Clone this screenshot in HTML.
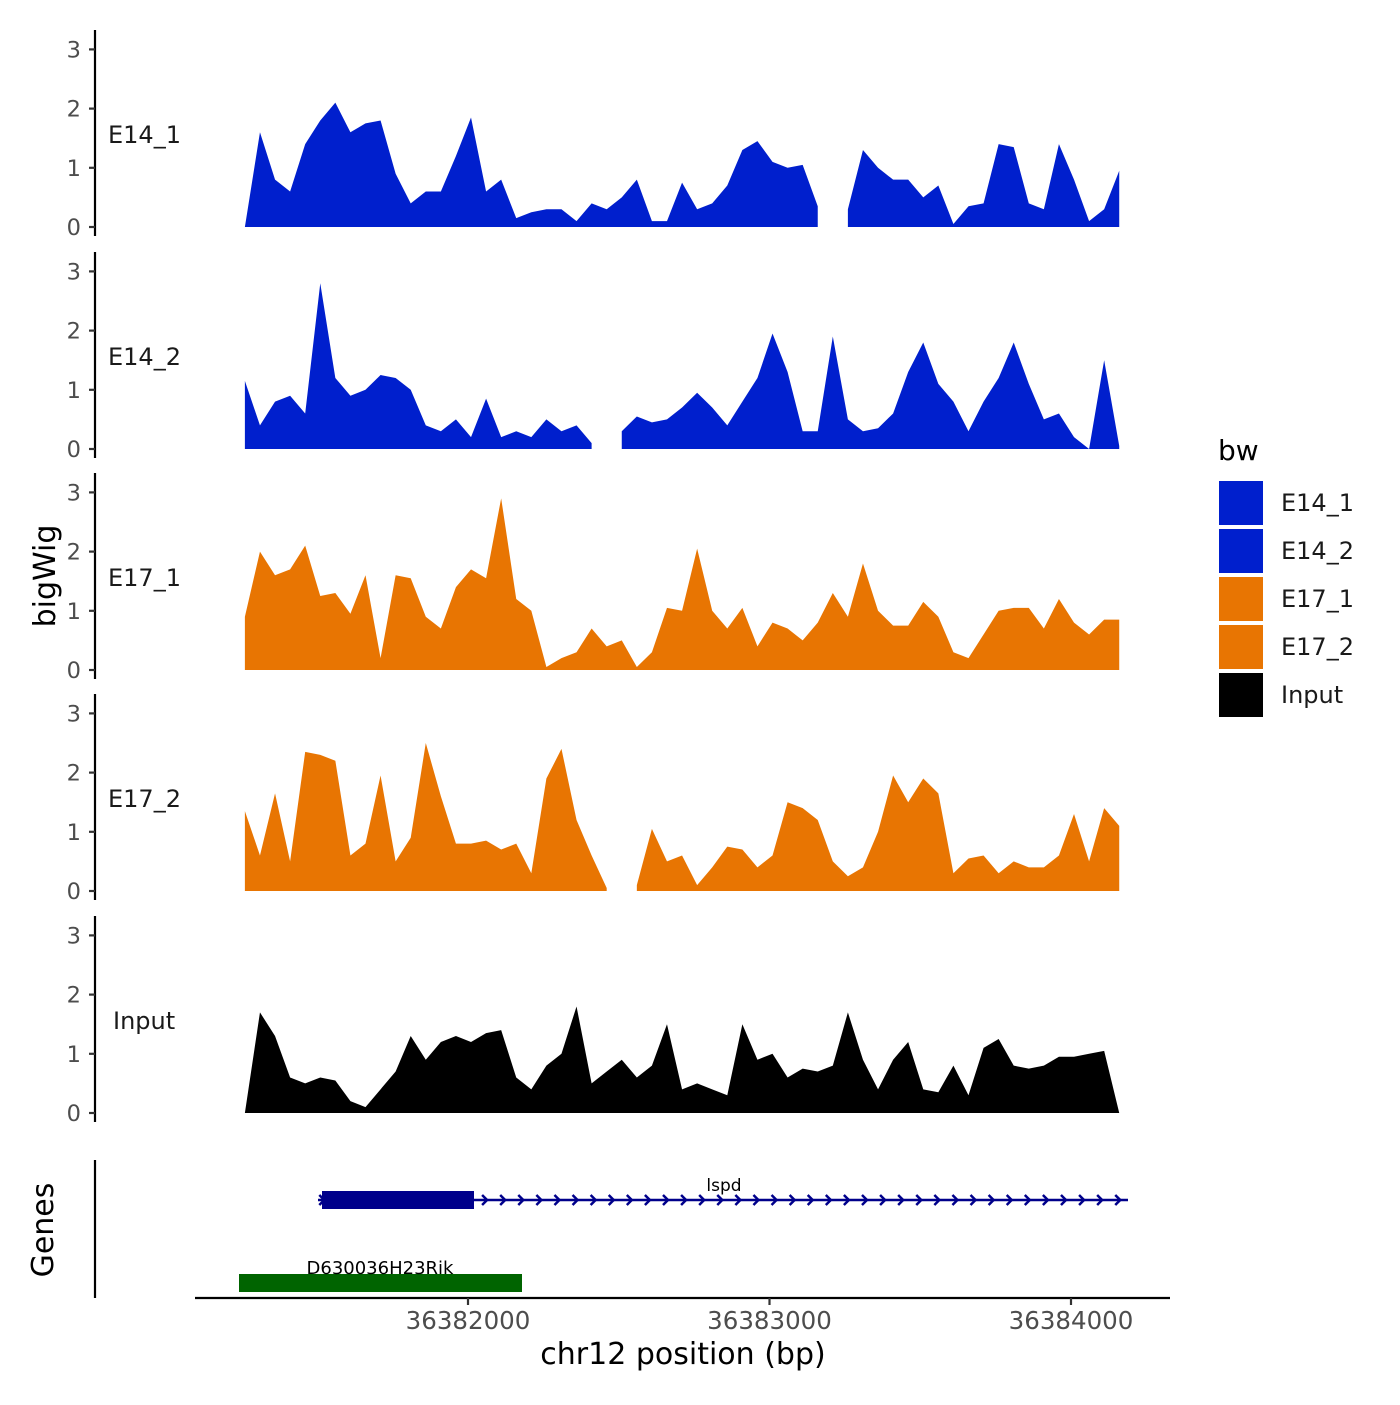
<!DOCTYPE html>
<html><head><meta charset="utf-8"><style>
body{margin:0;background:#fff}
svg text{font-family:"DejaVu Sans","Liberation Sans",sans-serif}
</style></head><body>
<svg id="chart" width="1400" height="1400" xmlns="http://www.w3.org/2000/svg">
<rect width="1400" height="1400" fill="#fff"/>
<g id="tracks"></g>
<g id="genes">
  <line x1="95" y1="1160" x2="95" y2="1298" stroke="#000" stroke-width="2.2"/>
  <line x1="318" y1="1200" x2="1128" y2="1200" stroke="#00008b" stroke-width="2.5"/>
  <g id="chevrons" stroke="#00008b" stroke-width="2.5" fill="none"></g>
  <rect x="322" y="1191" width="152" height="18" fill="#00008b"/>
  <text x="724" y="1191" font-size="17" text-anchor="middle">lspd</text>
  <rect x="239" y="1274" width="283" height="18" fill="#006400"/>
  <text x="380" y="1274" font-size="18" text-anchor="middle">D630036H23Rik</text>
</g>
<g id="xaxis">
  <line x1="195" y1="1298" x2="1170" y2="1298" stroke="#000" stroke-width="2.2"/>
</g>
<text x="55" y="576" font-size="30" text-anchor="middle" transform="rotate(-90 55 576)">bigWig</text>
<text x="53" y="1230" font-size="30" text-anchor="middle" transform="rotate(-90 53 1230)">Genes</text>
<text x="683" y="1364" font-size="30" text-anchor="middle">chr12 position (bp)</text>
<g id="legend">
  <text x="1218" y="460" font-size="28">bw</text>
</g>
</svg>
<script>
const startBp = 36381260, stepBp = 50;
const trackNames = ["E14_1","E14_2","E17_1","E17_2","Input"];
const trackColors = ["#001fcd","#001fcd","#e87502","#e87502","#000000"];
const yTicks = [0,1,2,3];
const xTicks = [36382000,36383000,36384000];
const e14_1 = [0,1.6,0.8,0.6,1.4,1.8,2.1,1.6,1.75,1.8,0.9,0.4,0.6,0.6,1.2,1.85,0.6,0.8,0.15,0.25,0.3,0.3,0.1,0.4,0.3,0.5,0.8,0.1,0.1,0.75,0.3,0.4,0.7,1.3,1.45,1.1,1.0,1.05,0.35,null,0.3,1.3,1.0,0.8,0.8,0.5,0.7,0.05,0.35,0.4,1.4,1.35,0.4,0.3,1.4,0.8,0.1,0.3,0.95];
const e14_2 = [1.15,0.4,0.8,0.9,0.6,2.8,1.2,0.9,1.0,1.25,1.2,1.0,0.4,0.3,0.5,0.2,0.85,0.2,0.3,0.2,0.5,0.3,0.4,0.1,null,0.3,0.55,0.45,0.5,0.7,0.95,0.7,0.4,0.8,1.2,1.95,1.3,0.3,0.3,1.9,0.5,0.3,0.35,0.6,1.3,1.8,1.1,0.8,0.3,0.8,1.2,1.8,1.1,0.5,0.6,0.2,0.0,1.5,0.05];
const e17_1 = [0.9,2.0,1.6,1.7,2.1,1.25,1.3,0.95,1.6,0.2,1.6,1.55,0.9,0.7,1.4,1.7,1.55,2.9,1.2,1.0,0.05,0.2,0.3,0.7,0.4,0.5,0.05,0.3,1.05,1.0,2.05,1.0,0.7,1.05,0.4,0.8,0.7,0.5,0.8,1.3,0.9,1.8,1.0,0.75,0.75,1.15,0.9,0.3,0.2,0.6,1.0,1.05,1.05,0.7,1.2,0.8,0.6,0.85,0.85];
const e17_2 = [1.35,0.6,1.65,0.5,2.35,2.3,2.2,0.6,0.8,1.95,0.5,0.9,2.5,1.6,0.8,0.8,0.85,0.7,0.8,0.3,1.9,2.4,1.2,0.6,0.05,null,0.1,1.05,0.5,0.6,0.1,0.4,0.75,0.7,0.4,0.6,1.5,1.4,1.2,0.5,0.25,0.4,1.0,1.95,1.5,1.9,1.65,0.3,0.55,0.6,0.3,0.5,0.4,0.4,0.6,1.3,0.5,1.4,1.1];
const input = [0,1.7,1.3,0.6,0.5,0.6,0.55,0.2,0.1,0.4,0.7,1.3,0.9,1.2,1.3,1.2,1.35,1.4,0.6,0.4,0.8,1.0,1.8,0.5,0.7,0.9,0.6,0.8,1.5,0.4,0.5,0.4,0.3,1.5,0.9,1.0,0.6,0.75,0.7,0.8,1.7,0.9,0.4,0.9,1.2,0.4,0.35,0.8,0.3,1.1,1.25,0.8,0.75,0.8,0.95,0.95,1.0,1.05,0.0];
const trackValues = [e14_1,e14_2,e17_1,e17_2,input];
const chevronStartBp = 36381520, chevronEndBp = 36384200, chevronStepBp = 60;

const NS="http://www.w3.org/2000/svg";
const xScale = bp => 468 + (bp-36382000)*0.3015;
const baseY = [227,449,670,891,1113];
const yScale = (i,v) => baseY[i] - v*59.2;
function mk(tag, attrs, parent){const e=document.createElementNS(NS,tag);for(const k in attrs)e.setAttribute(k,attrs[k]);parent.appendChild(e);return e;}
const tracks=document.getElementById('tracks');
trackNames.forEach((name,i)=>{
  const g=mk('g',{},tracks);
  
  
  const ax=mk('line',{x1:95,y1:baseY[i]-197,x2:95,y2:baseY[i]+9,stroke:'#000','stroke-width':2.2},g);
  
  
  yTicks.forEach(t=>{
    const y=yScale(i,t);
    const tk=mk('line',{x1:89,y1:y,x2:95,y2:y,stroke:'#333','stroke-width':2.2},g);
    
    
    const tl=mk('text',{x:81,y:y+8,'font-size':22.5,'text-anchor':'end',fill:'#4d4d4d'},g);
    tl.textContent=t;
    
    
  });
  const lab=mk('text',{x:name==='Input'?113:108,y:baseY[i]-84,'font-size':24,fill:'#1a1a1a'},g);
  lab.textContent=name;
  
  
  const vals=trackValues[i];
  let seg=[];
  const segs=[];
  vals.forEach((v,j)=>{ if(v===null){ if(seg.length) segs.push(seg); seg=[]; } else seg.push([xScale(startBp+j*stepBp), yScale(i,v)]); });
  if(seg.length) segs.push(seg);
  segs.forEach(s=>{
    let d='M'+s[0][0]+','+baseY[i];
    s.forEach(p=>d+='L'+p[0]+','+p[1]);
    d+='L'+s[s.length-1][0]+','+baseY[i]+'Z';
    const p=mk('path',{d:d,fill:trackColors[i]},g);
    
    
  });
});
const chev=document.getElementById('chevrons');
for(let bp=chevronStartBp; bp<=chevronEndBp; bp+=chevronStepBp){
  const x=xScale(bp);
  const c=mk('path',{d:`M${x-4},${1195}L${x+1},${1200}L${x-4},${1205}`},chev);
  
  
}
const xa=document.getElementById('xaxis');
xTicks.forEach(t=>{
  const x=xScale(t);
  const tk=mk('line',{x1:x,y1:1298,x2:x,y2:1305,stroke:'#333','stroke-width':2.2},xa);
  
  
  const tl=mk('text',{x:x,y:1329,'font-size':24.5,'text-anchor':'middle',fill:'#4d4d4d'},xa);
  tl.textContent=t;
  
  
});
const lg=document.getElementById('legend');
trackNames.forEach((name,i)=>{
  const y=480+i*48;
  const r=mk('rect',{x:1218,y:y,width:46,height:46,fill:trackColors[i],stroke:'#fff','stroke-width':2},lg);
  
  
  const t=mk('text',{x:1281,y:y+31,'font-size':24,fill:'#1a1a1a'},lg);
  t.textContent=name;
  
  
});
</script>
</body></html>
